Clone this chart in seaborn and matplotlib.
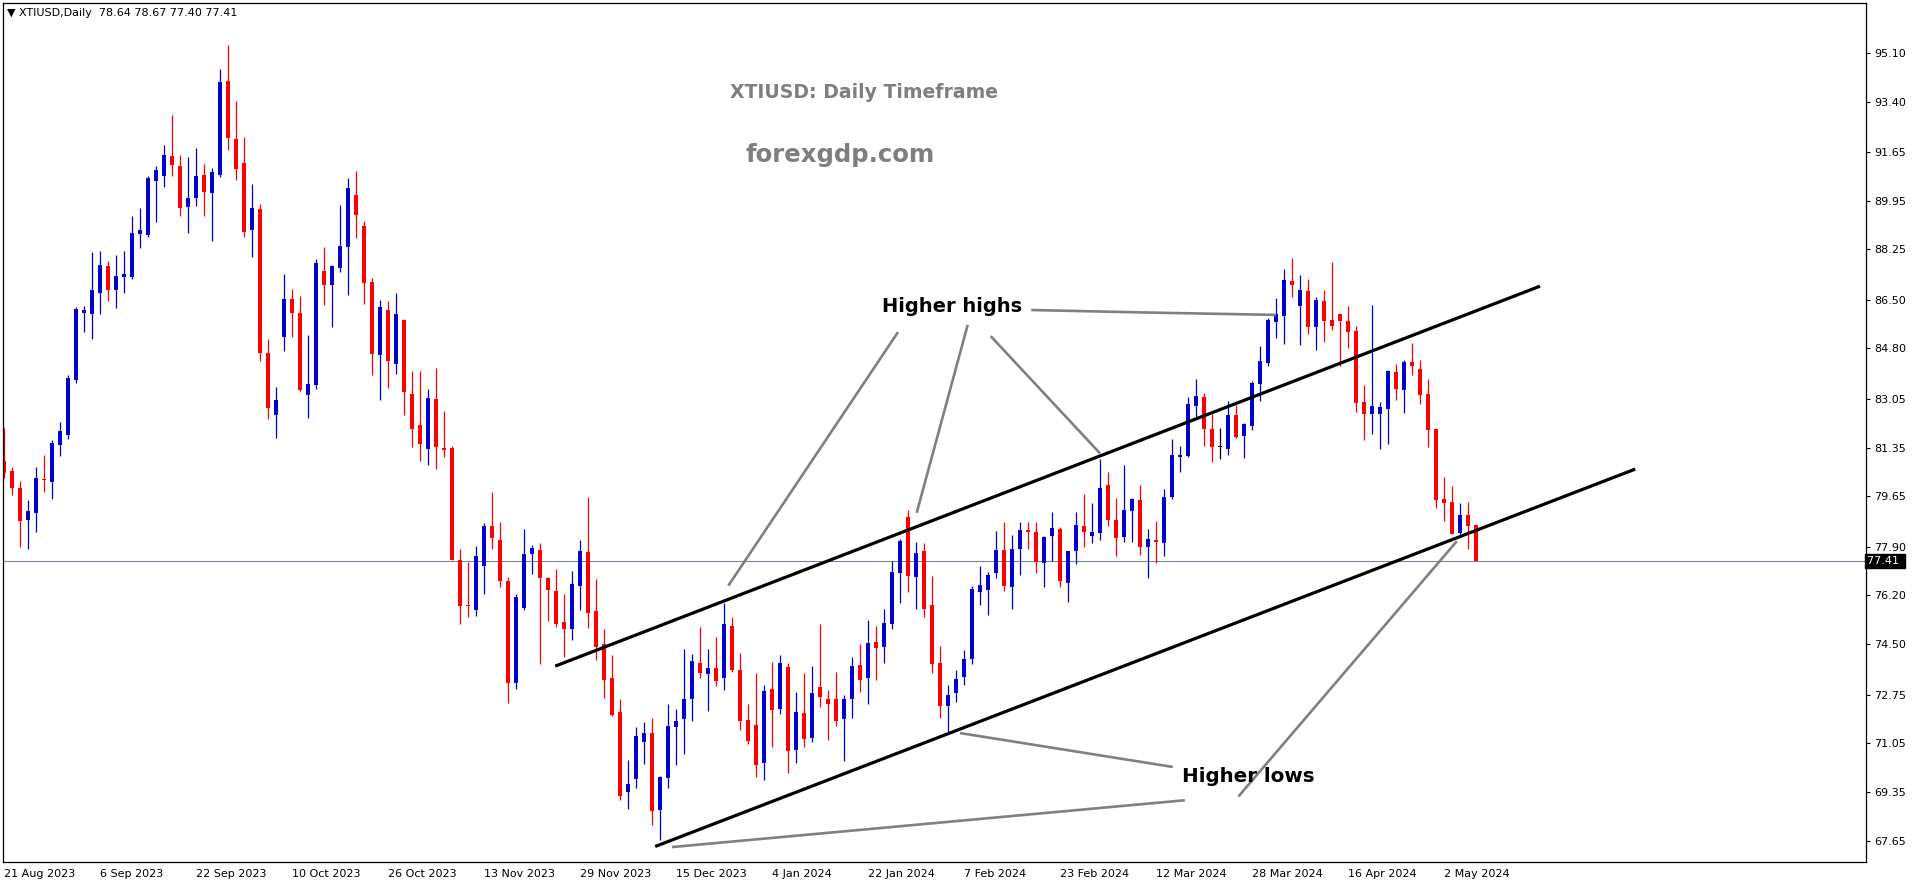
import numpy as np
import pandas as pd
import seaborn as sns
import matplotlib.pyplot as plt

# Daily XTIUSD candles (bar 0 = 21 Aug 2023)
opens = [80.88, 80.53, 79.94, 78.83, 79.08, 80.24, 80.16, 81.45, 81.79, 83.70,
         86.04, 86.00, 86.74, 87.67, 86.83, 87.30, 87.30, 88.78, 88.75, 90.63,
         90.80, 91.50, 91.15, 89.72, 90.04, 90.84, 90.21, 90.84, 94.11, 92.09,
         91.26, 88.93, 89.65, 84.64, 82.49, 85.21, 86.52, 86.04, 83.19, 83.53,
         87.49, 87.02, 87.61, 88.34, 90.14, 89.06, 87.12, 84.59, 86.13, 84.27,
         85.78, 83.21, 82.13, 81.31, 83.04, 81.31, 81.33, 77.43, 75.86, 75.69,
         77.24, 78.62, 78.13, 76.70, 73.16, 75.77, 77.65, 77.78, 76.81, 76.35,
         75.27, 75.04, 76.54, 77.71, 75.66, 74.51, 73.32, 72.14, 69.37, 69.82,
         71.11, 71.41, 68.74, 69.85, 71.63, 71.91, 72.60, 73.85, 73.47, 73.67,
         73.34, 75.13, 73.61, 71.86, 71.69, 70.38, 72.94, 72.26, 73.71, 70.83,
         72.11, 71.25, 73.01, 72.59, 72.59, 71.91, 72.60, 73.78, 73.34, 74.58,
         74.41, 75.22, 76.99, 78.93, 76.85, 77.75, 75.86, 73.85, 72.35, 72.80,
         73.35, 74.00, 76.33, 76.40, 76.99, 77.78, 76.50, 77.83, 78.48, 78.41,
         77.34, 78.28, 78.51, 76.64, 77.76, 78.61, 78.28, 78.38, 80.04, 78.82,
         78.24, 79.15, 79.52, 77.89, 78.13, 78.04, 79.64, 81.03, 81.05, 82.80,
         83.11, 81.99, 81.36, 81.30, 82.48, 81.75, 82.10, 83.56, 84.29, 85.72,
         85.93, 87.15, 86.28, 86.80, 85.55, 86.45, 85.79, 86.00, 85.75, 85.41,
         82.93, 82.52, 82.52, 82.69, 83.98, 83.35, 84.33, 84.08, 83.21, 82.00,
         79.56, 79.45, 78.37, 79.00, 78.64]
highs = [82.02, 80.66, 80.18, 79.52, 80.66, 81.09, 81.61, 82.24, 83.87, 86.25,
         86.28, 88.16, 88.19, 87.84, 88.05, 88.19, 89.41, 89.69, 90.80, 91.15,
         91.88, 92.93, 91.54, 91.47, 91.78, 91.22, 91.08, 94.53, 95.36, 93.41,
         92.17, 90.53, 89.82, 85.13, 83.45, 87.40, 86.86, 86.62, 85.27, 87.92,
         88.33, 87.70, 89.80, 90.73, 90.98, 89.24, 87.25, 86.49, 86.45, 86.73,
         85.82, 84.01, 84.01, 83.39, 84.12, 82.63, 81.40, 77.82, 77.37, 77.92,
         78.71, 79.80, 78.76, 76.85, 76.25, 78.51, 77.97, 78.02, 76.85, 77.12,
         76.25, 77.05, 78.13, 79.63, 76.77, 75.03, 74.12, 72.59, 70.47, 71.62,
         71.79, 71.93, 69.90, 72.42, 72.24, 74.33, 74.16, 75.10, 74.33, 74.75,
         75.94, 75.45, 74.19, 72.43, 73.50, 73.08, 73.88, 74.12, 73.85, 72.84,
         73.50, 73.74, 75.20, 72.91, 73.53, 72.73, 74.06, 74.51, 75.34, 75.13,
         75.73, 77.40, 78.16, 79.17, 78.06, 78.02, 76.87, 74.44, 73.10, 73.60,
         74.30, 76.52, 77.22, 77.01, 78.44, 78.75, 78.30, 78.75, 78.75, 78.75,
         78.27, 79.10, 78.58, 77.74, 79.10, 79.73, 79.42, 80.95, 80.49, 79.59,
         80.74, 79.59, 80.04, 78.51, 78.79, 79.91, 81.65, 81.40, 83.11, 83.74,
         83.25, 82.52, 82.03, 82.97, 82.83, 82.20, 83.67, 84.88, 85.86, 86.56,
         87.57, 87.95, 87.36, 87.22, 86.59, 86.83, 87.81, 86.00, 86.28, 85.58,
         83.53, 86.31, 82.94, 84.05, 84.26, 84.40, 84.99, 84.40, 83.73, 82.00,
         80.32, 80.01, 79.42, 79.45, 78.67]
lows = [80.28, 79.70, 77.90, 77.82, 78.42, 79.81, 79.57, 81.07, 81.65, 83.61,
        85.38, 85.13, 86.00, 86.45, 86.22, 86.73, 87.23, 88.30, 88.68, 89.20,
        90.42, 90.80, 89.41, 88.82, 89.76, 89.41, 88.54, 90.77, 91.71, 90.66,
        88.69, 88.00, 84.36, 82.36, 81.69, 84.72, 85.21, 83.32, 82.39, 83.40,
        86.33, 85.56, 87.48, 86.68, 88.65, 86.36, 83.89, 82.99, 83.44, 83.92,
        82.49, 81.37, 80.89, 80.75, 80.61, 81.03, 77.43, 75.22, 75.46, 75.49,
        76.26, 77.83, 76.50, 72.44, 72.95, 75.69, 76.96, 73.81, 75.32, 75.11,
        74.07, 74.65, 75.69, 75.08, 73.95, 72.64, 72.00, 69.09, 68.77, 69.51,
        70.34, 68.22, 67.70, 69.51, 70.31, 70.69, 71.84, 73.34, 72.19, 73.06,
        72.92, 73.54, 71.52, 71.04, 69.89, 69.77, 70.93, 72.08, 70.03, 70.38,
        70.93, 71.11, 72.33, 71.18, 71.66, 70.45, 71.94, 72.85, 72.43, 73.27,
        73.85, 75.04, 75.94, 76.33, 75.73, 75.46, 73.50, 71.95, 71.45, 72.50,
        73.10, 73.80, 75.86, 75.53, 76.82, 76.36, 75.74, 76.92, 77.83, 76.99,
        76.50, 77.41, 76.50, 75.98, 77.30, 77.89, 78.03, 78.14, 78.63, 77.58,
        78.07, 78.07, 77.62, 76.82, 77.34, 77.58, 79.57, 80.51, 81.02, 82.41,
        81.40, 80.85, 80.95, 81.09, 81.68, 80.99, 81.96, 82.97, 84.19, 85.16,
        84.95, 86.59, 84.92, 85.30, 84.75, 85.02, 85.44, 84.19, 84.82, 82.59,
        81.61, 81.82, 81.30, 81.47, 83.00, 82.55, 83.88, 82.86, 81.37, 79.24,
        78.79, 78.34, 78.34, 77.82, 77.40]
closes = [80.47, 79.93, 78.80, 79.14, 80.29, 80.22, 81.51, 81.92, 83.76, 86.17,
          86.14, 86.83, 87.70, 86.83, 87.32, 87.39, 88.82, 88.92, 90.73, 91.01,
          91.54, 91.19, 89.69, 90.04, 90.80, 90.25, 90.94, 94.08, 92.13, 91.05,
          88.86, 89.69, 84.65, 82.73, 83.00, 86.52, 86.05, 83.36, 83.56, 87.77,
          87.02, 87.66, 88.37, 90.38, 89.46, 87.09, 84.61, 86.24, 84.37, 86.00,
          83.27, 82.00, 81.48, 83.07, 81.37, 81.28, 77.43, 75.84, 75.82, 77.57,
          78.62, 78.21, 76.71, 73.16, 76.14, 77.64, 77.85, 76.82, 76.40, 75.22,
          75.04, 76.60, 77.75, 75.60, 74.40, 73.27, 72.05, 69.23, 69.63, 71.30,
          71.41, 68.70, 69.88, 71.65, 71.83, 72.59, 73.92, 73.51, 73.67, 73.23,
          75.20, 73.61, 71.84, 71.14, 70.31, 72.87, 72.22, 73.85, 70.79, 72.14,
          71.21, 72.80, 72.66, 72.42, 71.84, 72.59, 73.74, 73.27, 74.54, 74.38,
          75.24, 77.01, 78.09, 76.89, 77.68, 75.74, 73.80, 72.35, 72.75, 73.30,
          74.00, 76.42, 76.56, 76.91, 77.78, 76.54, 77.81, 78.48, 78.42, 77.37,
          78.23, 78.55, 76.71, 77.74, 78.65, 78.42, 78.41, 79.94, 78.83, 78.21,
          79.17, 79.55, 77.89, 78.16, 78.07, 79.63, 81.09, 81.09, 82.87, 83.14,
          81.99, 81.37, 81.36, 82.48, 81.72, 82.17, 83.60, 84.36, 85.79, 86.00,
          87.18, 87.01, 86.83, 85.55, 86.49, 85.75, 85.58, 85.75, 85.37, 82.90,
          82.52, 82.80, 82.76, 84.01, 83.40, 84.33, 84.19, 83.18, 81.96, 79.52,
          79.42, 78.34, 79.00, 78.62, 77.41]

date_labels = ["21 Aug 2023", "6 Sep 2023", "22 Sep 2023", "10 Oct 2023", "26 Oct 2023",
               "13 Nov 2023", "29 Nov 2023", "15 Dec 2023", "4 Jan 2024", "22 Jan 2024",
               "7 Feb 2024", "23 Feb 2024", "12 Mar 2024", "28 Mar 2024", "16 Apr 2024",
               "2 May 2024"]
price_ticks = [95.10, 93.40, 91.65, 89.95, 88.25, 86.50, 84.80, 83.05, 81.35,
               79.65, 77.90, 76.20, 74.50, 72.75, 71.05, 69.35, 67.65]
last_price = 77.41

# channel lines and pointer lines (bar index, price)
upper_channel = [(68.9, 73.74), (192.0, 86.97)]
lower_channel = [(81.4, 67.46), (203.9, 80.60)]
highs_pointers = [[(111.75, 85.37), (90.54, 76.54)],
                  [(120.46, 85.62), (114.09, 79.08)],
                  [(123.34, 85.23), (137.0, 81.15)],
                  [(128.4, 86.14), (143.3, 86.05), (159.0, 85.97)]]
lows_pointers = [[(146.1, 70.23), (119.5, 71.41)],
                 [(147.6, 69.07), (83.5, 67.44)],
                 [(154.3, 69.20), (181.6, 78.09)]]

df = pd.DataFrame({"open": opens, "high": highs, "low": lows, "close": closes})
df["bar"] = np.arange(len(df))
df["color"] = np.where(df["close"] > df["open"], "#0000CC",
                       np.where(df["close"] < df["open"], "#FF0000", "#000000"))
df["body_lo"] = df[["open", "close"]].min(axis=1)
df["body_h"] = (df["open"] - df["close"]).abs().clip(lower=0.04)

sns.set_theme(style="white")
plt.rcParams["font.family"] = ["DejaVu Sans"]

W, H = 1916, 884
fig = plt.figure(figsize=(W / 100, H / 100), dpi=100)
ax = fig.add_axes([2.7 / W, (H - 862) / H, (1866 - 2.7) / W, (862 - 3) / H])
ax.set_facecolor("white")

ax.vlines(df["bar"], df["low"], df["high"], colors=df["color"], linewidth=0.9)
ax.bar(df["bar"], df["body_h"], bottom=df["body_lo"], width=0.62,
       color=df["color"], linewidth=0)

ax.axhline(last_price, color="#778899", linewidth=0.8, zorder=0)

for line in [upper_channel, lower_channel]:
    xs, ys = zip(*line)
    ax.plot(xs, ys, color="black", linewidth=2.3, solid_capstyle="butt")
for line in highs_pointers + lows_pointers:
    xs, ys = zip(*line)
    ax.plot(xs, ys, color="#808080", linewidth=1.9, solid_capstyle="butt")

ax.set_xlim(-0.16, 232.75)
ax.set_ylim(66.92, 96.83)

ax.yaxis.tick_right()
ax.set_yticks(price_ticks)
ax.set_yticklabels([f"{v:.2f}" for v in price_ticks])
ax.set_xticks(np.arange(0, 12 * len(date_labels), 12))
ax.set_xticklabels(date_labels, ha="left")
ax.tick_params(axis="both", direction="out", length=3, width=0.8, color="black",
               labelsize=8, labelcolor="black")
ax.tick_params(axis="x", pad=2)
ax.tick_params(axis="y", pad=3)
for s in ax.spines.values():
    s.set_color("black")
    s.set_linewidth(0.9)
ax.grid(False)

ax.text(1.0008, last_price, "77.41 ", transform=ax.get_yaxis_transform(),
        ha="left", va="center", fontsize=8, color="white",
        bbox=dict(boxstyle="square,pad=0.2", facecolor="black", edgecolor="black"))

fig.text(7 / W, 1 - 13 / H, "\u25bc XTIUSD,Daily  78.64 78.67 77.40 77.41",
         ha="left", va="center", fontsize=8, color="black")

fig.text(864 / W, 1 - 93 / H, "XTIUSD: Daily Timeframe", ha="center", va="center",
         fontsize=13.6, fontweight="bold", color="#7f7f7f")
fig.text(840 / W, 1 - 155 / H, "forexgdp.com", ha="center", va="center",
         fontsize=17.6, fontweight="bold", color="#7f7f7f")
fig.text(952 / W, 1 - 307 / H, "Higher highs", ha="center", va="center",
         fontsize=14, fontweight="bold", color="black")
fig.text(1248 / W, 1 - 777 / H, "Higher lows", ha="center", va="center",
         fontsize=14.3, fontweight="bold", color="black")

fig.savefig("out.png", dpi=100)
